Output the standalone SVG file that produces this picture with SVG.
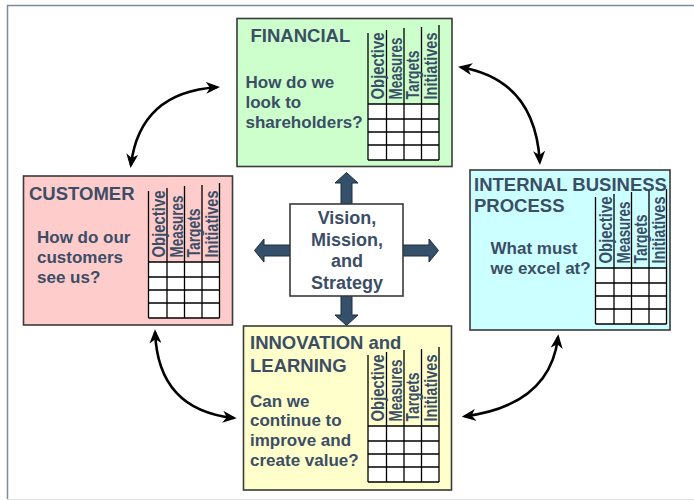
<svg xmlns="http://www.w3.org/2000/svg" width="694" height="500" viewBox="0 0 694 500">
<style>
text{font-family:"Liberation Sans",Arial,sans-serif;font-weight:bold;fill:#3b4e66}
.ttl{font-size:18.5px}
.q{font-size:17px}
.hd{font-size:19px}
.ctr{font-size:18px;text-anchor:middle}
.box{stroke:#3a3a3a;stroke-width:1.6}
.blk{fill:#34506b;stroke:#1e2d3d;stroke-width:1}
.curve{fill:none;stroke:#000;stroke-width:2.6;marker-start:url(#ah);marker-end:url(#ah)}
</style>
<defs>
<marker id="ah" viewBox="0 0 14 12" markerWidth="14" markerHeight="12" refX="11" refY="6" markerUnits="userSpaceOnUse" orient="auto-start-reverse">
<path d="M0,0 L14,6 L0,12 L4,6 z" fill="#000"/>
</marker>
<g id="tbl">
<rect x="0" y="0" width="71" height="56" fill="#fff"/>
<path d="M0,-71V56 M18.5,-74V56 M36,-76V56 M53.5,-77V56 M71,-79V56 M0,0H71 M0,15H71 M0,28H71 M0,41H71 M0,56H71" stroke="#000" stroke-width="1.3" fill="none"/>
<text class="hd" transform="translate(16.3,-4.5) rotate(-90)" textLength="67" lengthAdjust="spacingAndGlyphs">Objective</text>
<text class="hd" transform="translate(34,-4.5) rotate(-90)" textLength="62" lengthAdjust="spacingAndGlyphs">Measures</text>
<text class="hd" transform="translate(51.3,-4.5) rotate(-90)" textLength="49" lengthAdjust="spacingAndGlyphs">Targets</text>
<text class="hd" transform="translate(69,-4.5) rotate(-90)" textLength="67" lengthAdjust="spacingAndGlyphs">Initiatives</text>
</g>
</defs>
<rect x="0" y="0" width="694" height="500" fill="#fff"/>
<g id="frame" fill="none">
<path d="M7,5.5H694" stroke="#7b8ba3" stroke-width="1.3"/>
<path d="M7.5,5V499" stroke="#7b8ba3" stroke-width="1.5"/>
<path d="M7,499.5H694" stroke="#e2e2e2" stroke-width="1"/>
</g>
<g id="connectors">
<path class="curve" d="M130.9,165 Q140,92 217,87.2"/>
<path class="curve" d="M461,67.2 Q535,80 539.8,162"/>
<path class="curve" d="M155.1,332.3 Q158,410 233.7,418"/>
<path class="curve" d="M558,337.3 Q550,405 464.7,416.3"/>
<polygon class="blk" points="341,205 341,183 335,183 346.5,172.5 358,183 352,183 352,205"/>
<polygon class="blk" points="341,295 341,315 335,315 346.5,325.5 358,315 352,315 352,295"/>
<polygon class="blk" points="291,245 264,245 264,239 254.5,250.5 264,262 264,256 291,256"/>
<polygon class="blk" points="402,245 429,245 429,239 438.5,250.5 429,262 429,256 402,256"/>
</g>
<g id="financial">
<rect class="box" x="237" y="18.5" width="215" height="148" fill="#ccffcc"/>
<text class="ttl" x="250.5" y="42">FINANCIAL</text>
<text class="q" x="245.5" y="87.5">How do we</text>
<text class="q" x="245.5" y="107.5">look to</text>
<text class="q" x="245.5" y="127.5">shareholders?</text>
<use href="#tbl" x="368" y="104"/>
</g>
<g id="customer">
<rect class="box" x="23.5" y="176" width="209" height="149" fill="#ffcccc"/>
<text class="ttl" x="29" y="199.5">CUSTOMER</text>
<text class="q" x="37" y="242.5">How do our</text>
<text class="q" x="37" y="262.5">customers</text>
<text class="q" x="37" y="282.5">see us?</text>
<use href="#tbl" x="148.5" y="262"/>
</g>
<g id="internal">
<rect class="box" x="470" y="170" width="200" height="160" fill="#ccffff"/>
<text class="ttl" x="474" y="191">INTERNAL BUSINESS</text>
<text class="ttl" x="474" y="211.5">PROCESS</text>
<text class="q" x="490.5" y="253.5">What must</text>
<text class="q" x="490.5" y="273.5">we excel at?</text>
<use href="#tbl" x="595.5" y="268"/>
</g>
<g id="innovation">
<rect class="box" x="243.5" y="326" width="208" height="164" fill="#ffffcc"/>
<text class="ttl" x="250" y="348.5">INNOVATION and</text>
<text class="ttl" x="250" y="371.5">LEARNING</text>
<text class="q" x="250" y="406.5">Can we</text>
<text class="q" x="250" y="426">continue to</text>
<text class="q" x="250" y="446">improve and</text>
<text class="q" x="250" y="465.5">create value?</text>
<use href="#tbl" x="368" y="426"/>
</g>
<g id="vision">
<rect class="box" x="290" y="204" width="113" height="92" fill="#fff"/>
<text class="ctr" x="347" y="223.5">Vision,</text>
<text class="ctr" x="347" y="245.5">Mission,</text>
<text class="ctr" x="347" y="267">and</text>
<text class="ctr" x="347" y="288.5">Strategy</text>
</g>
</svg>
